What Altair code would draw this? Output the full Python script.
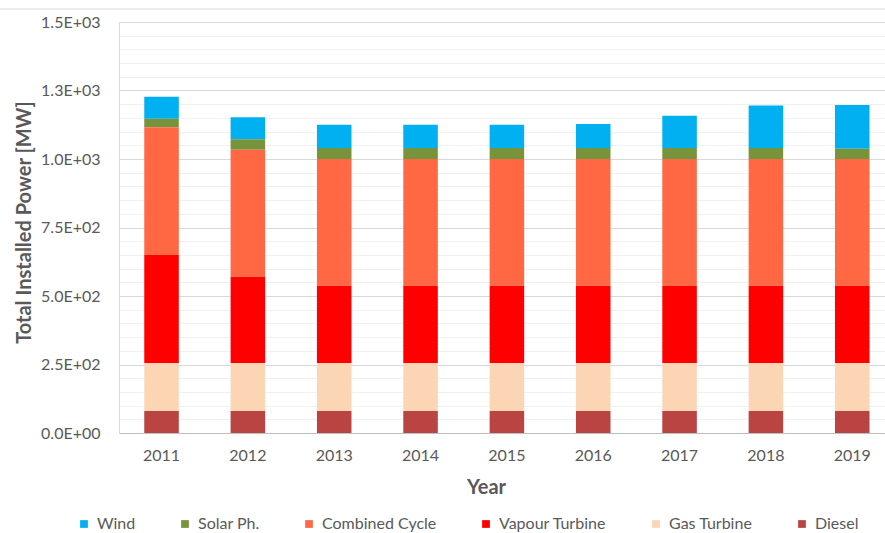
import altair as alt
import pandas as pd

years = ["2011", "2012", "2013", "2014", "2015", "2016", "2017", "2018", "2019"]
series = ["Wind", "Solar Ph.", "Combined Cycle", "Vapour Turbine", "Gas Turbine", "Diesel"]
colors = ["#00B0F0", "#77933C", "#FF6843", "#FF0000", "#FCD5B5", "#B94442"]

diesel = [80, 80, 80, 80, 80, 80, 80, 80, 80]
gas_turbine = [175, 175, 175, 175, 175, 175, 175, 175, 175]
vapour_turbine = [395, 315, 282, 282, 282, 282, 282, 282, 282]
combined_cycle = [466, 464, 463, 463, 463, 463, 463, 463, 463]
solar = [31, 38, 40, 40, 40, 40, 40, 40, 37]
wind = [80, 80, 85, 85, 85, 88, 118, 155, 160]

y_ticks = list(range(0, 1501, 50))

values = {
    "Wind": wind,
    "Solar Ph.": solar,
    "Combined Cycle": combined_cycle,
    "Vapour Turbine": vapour_turbine,
    "Gas Turbine": gas_turbine,
    "Diesel": diesel,
}

rows = []
for s in series:
    for yr, v in zip(years, values[s]):
        rows.append({"Year": yr, "Source": s, "MW": v, "rank": len(series) - series.index(s)})
df = pd.DataFrame(rows)

FONT = "Lato"
GREY = "#595959"

label_expr = (
    "datum.value % 250 !== 0 ? '' : (datum.value === 0 ? '0.0E+00' : "
    "format(datum.value / pow(10, floor(log(datum.value) / LN10 + 1e-9)), '.1f') + 'E+' + "
    "(floor(log(datum.value) / LN10 + 1e-9) < 10 ? '0' : '') + floor(log(datum.value) / LN10 + 1e-9))"
)

bars = alt.Chart(df).mark_bar().encode(
    x=alt.X(
        "Year:N",
        sort=years,
        scale=alt.Scale(paddingInner=0.6, paddingOuter=0.236, align=0.62),
        axis=alt.Axis(
            title="Year",
            labelAngle=0,
            ticks=False,
            labelFont=FONT,
            labelFontSize=16,
            labelColor=GREY,
            labelPadding=14,
            domainColor="#bfbfbf",
            titleFont=FONT,
            titleFontSize=20,
            titleFontWeight="bold",
            titleColor=GREY,
            titlePadding=14,
            titleX=367,
        ),
    ),
    y=alt.Y(
        "MW:Q",
        stack="zero",
        scale=alt.Scale(domain=[0, 1500], nice=False),
        axis=alt.Axis(
            title="Total Installed Power [MW]",
            values=y_ticks,
            labelExpr=label_expr,
            labelOverlap=False,
            ticks=False,
            labelFont=FONT,
            labelFontSize=16,
            labelColor=GREY,
            labelPadding=19,
            domainColor="#d9d9d9",
            gridColor={"condition": {"test": "datum.value % 250 === 0", "value": "#d9d9d9"}, "value": "#f0f0f0"},
            gridWidth=1,
            titleFont=FONT,
            titleFontSize=20,
            titleFontWeight="bold",
            titleColor=GREY,
            titlePadding=6,
            titleY=200,
        ),
    ),
    color=alt.Color(
        "Source:N",
        scale=alt.Scale(domain=series, range=colors),
        legend=alt.Legend(
            title=None,
            orient="none",
            direction="horizontal",
            columns=6,
            legendX=-43,
            legendY=494,
            symbolType="square",
            symbolSize=60,
            symbolStrokeWidth=0,
            labelFont=FONT,
            labelFontSize=16,
            labelColor=GREY,
            labelOffset=5,
            columnPadding=41,
        ),
    ),
    order=alt.Order("rank:Q", sort="ascending"),
)

border = alt.Chart(alt.Data(values=[{}])).mark_rule(color="#d9d9d9", strokeWidth=1).encode(
    x=alt.value(-119), x2=alt.value(766), y=alt.value(-13)
)

chart = alt.layer(bars, border).properties(
    width=766,
    height=411,
    autosize=alt.AutoSizeParams(type="none"),
    padding={"left": 119, "top": 22, "right": 0, "bottom": 100},
).configure_view(stroke=None)

chart.save("out.html", embed_options={"renderer": "svg", "actions": False})
